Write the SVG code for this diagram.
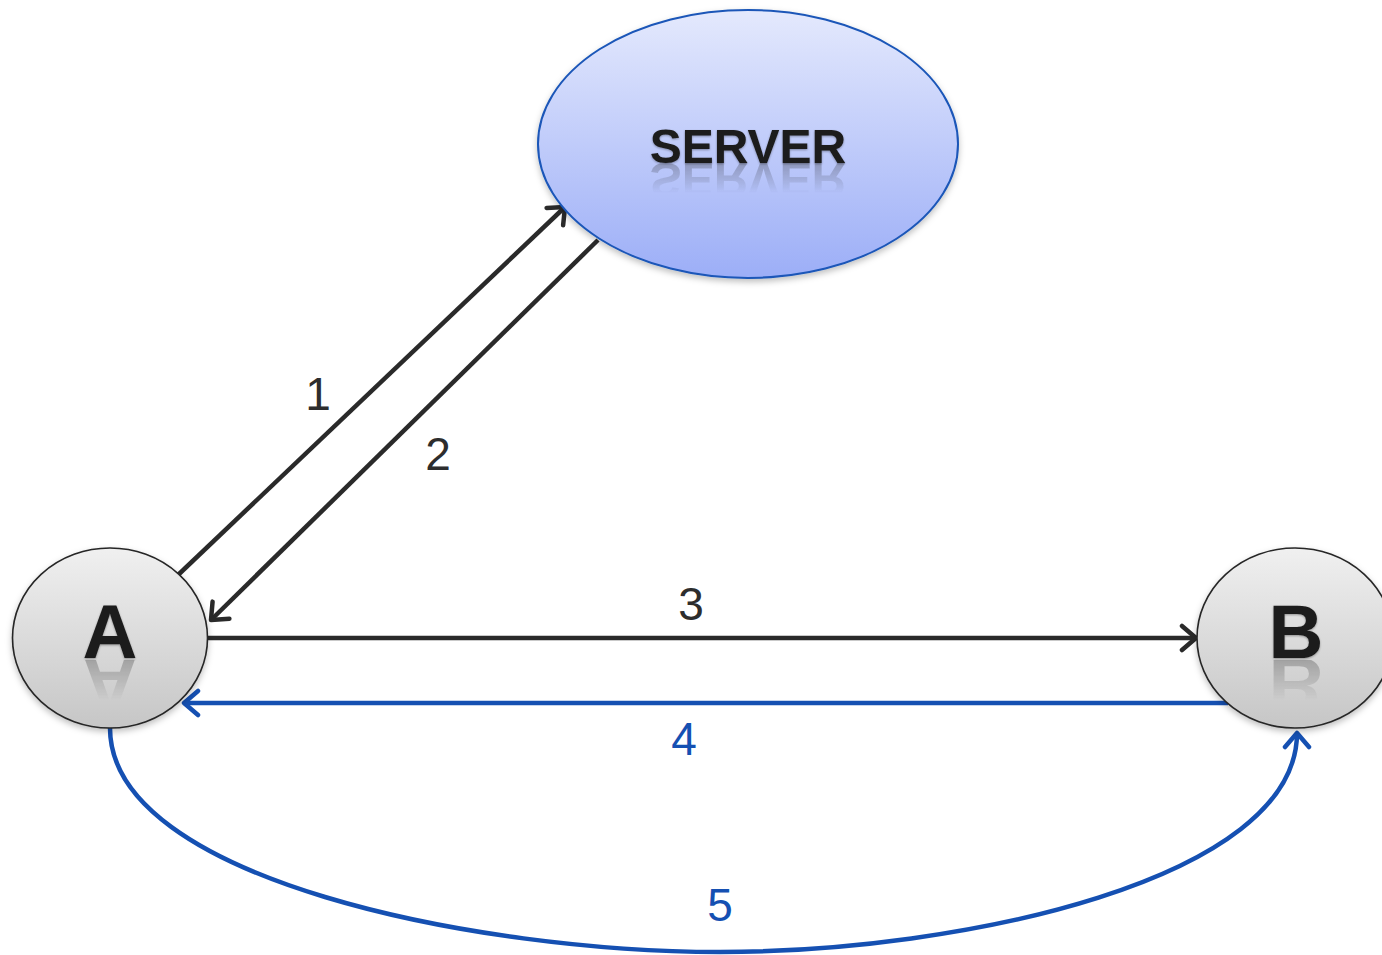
<svg xmlns="http://www.w3.org/2000/svg" width="1382" height="955" viewBox="0 0 1382 955">
  <style>
    .edge { fill: none; stroke: #2a2a2a; stroke-width: 4.5; }
    .edge-blue { fill: none; stroke: #1550b2; stroke-width: 4.5; }
    .label { font-family: "Liberation Sans", Arial, sans-serif; font-size: 46px; fill: #2d2d2d; text-anchor: middle; }
    .label-blue { fill: #1550b2; }
    .title { font-family: "Liberation Sans", Arial, sans-serif; font-weight: bold; fill: #1a1a1a; text-anchor: middle; }
    .peer { stroke: #262626; stroke-width: 1.6; fill: url(#peerFill); }
  </style>
  <defs>
    <linearGradient id="peerFill" x1="0" y1="0" x2="0" y2="1">
      <stop offset="0" stop-color="#f0f0f0"/>
      <stop offset="1" stop-color="#c6c6c6"/>
    </linearGradient>
    <linearGradient id="serverFill" x1="0" y1="0" x2="0" y2="1">
      <stop offset="0" stop-color="#e4e9fd"/>
      <stop offset="1" stop-color="#9caef7"/>
    </linearGradient>
    <linearGradient id="fadeGrad" x1="0" y1="0" x2="0" y2="1">
      <stop offset="0" stop-color="#fff" stop-opacity="0.45"/>
      <stop offset="1" stop-color="#fff" stop-opacity="0"/>
    </linearGradient>
    <filter id="soft" x="-10%" y="-10%" width="120%" height="130%">
      <feDropShadow dx="0" dy="3" stdDeviation="3" flood-color="#000" flood-opacity="0.25"/>
    </filter>
    <filter id="textShadow" x="-10%" y="-20%" width="120%" height="150%">
      <feDropShadow dx="0" dy="1" stdDeviation="1" flood-color="#000" flood-opacity="0.35"/>
    </filter>
    <mask id="reflServer" maskUnits="userSpaceOnUse" x="600" y="160" width="300" height="40">
      <rect x="600" y="163" width="300" height="30" fill="url(#fadeGrad)"/>
    </mask>
    <mask id="reflA" maskUnits="userSpaceOnUse" x="60" y="655" width="100" height="50">
      <rect x="60" y="660" width="100" height="40" fill="url(#fadeGrad)"/>
    </mask>
    <mask id="reflB" maskUnits="userSpaceOnUse" x="1245" y="655" width="100" height="50">
      <rect x="1245" y="660" width="100" height="40" fill="url(#fadeGrad)"/>
    </mask>
    <marker id="headDark" viewBox="-18 -15 21 30" markerWidth="21" markerHeight="30" refX="0" refY="0" orient="auto" markerUnits="userSpaceOnUse">
      <path d="M-14,-12 L0,0 L-14,12" fill="none" stroke="#2a2a2a" stroke-width="4.5" stroke-linecap="round" stroke-linejoin="round"/>
    </marker>
    <marker id="headBlue" viewBox="-18 -15 21 30" markerWidth="21" markerHeight="30" refX="0" refY="0" orient="auto" markerUnits="userSpaceOnUse">
      <path d="M-14,-12 L0,0 L-14,12" fill="none" stroke="#1550b2" stroke-width="4.5" stroke-linecap="round" stroke-linejoin="round"/>
    </marker>
  </defs>

  <rect width="1382" height="955" fill="#ffffff"/>

  <!-- connectors -->
  <g id="connectors">
    <path id="e1" class="edge" d="M178,575 L565,207" marker-end="url(#headDark)"/>
    <path id="e2" class="edge" d="M598,240 L211,620" marker-end="url(#headDark)"/>
    <path id="e3" class="edge" d="M208,638 L1196,638" marker-end="url(#headDark)"/>
    <path id="e4" class="edge-blue" d="M1228,703 L184,703" marker-end="url(#headBlue)"/>
    <path id="e5" class="edge-blue" d="M110,728 C110,880 480,952 720,952 C960,952 1297,880 1297,733" marker-end="url(#headBlue)"/>
  </g>

  <!-- connector labels -->
  <g id="edge-labels">
    <text class="label" x="318" y="410">1</text>
    <text class="label" x="438" y="470">2</text>
    <text class="label" x="691" y="620">3</text>
    <text class="label label-blue" x="684" y="755">4</text>
    <text class="label label-blue" x="720" y="921">5</text>
  </g>

  <!-- server node -->
  <g id="server">
    <ellipse cx="748" cy="144" rx="210" ry="134" fill="url(#serverFill)" stroke="#1a56b8" stroke-width="2" filter="url(#soft)"/>
    <text class="title" x="748" y="163" font-size="48" filter="url(#textShadow)">SERVER</text>
    <g mask="url(#reflServer)">
      <text class="title" x="748" y="-163" font-size="48" transform="scale(1,-1)" opacity="0.6">SERVER</text>
    </g>
  </g>

  <!-- peer A -->
  <g id="node-a">
    <ellipse class="peer" cx="110" cy="638" rx="97.5" ry="90" filter="url(#soft)"/>
    <text class="title" x="110" y="658" font-size="76" filter="url(#textShadow)">A</text>
    <g mask="url(#reflA)">
      <text class="title" x="110" y="-658" font-size="76" transform="scale(1,-1)" opacity="0.6">A</text>
    </g>
  </g>

  <!-- peer B -->
  <g id="node-b">
    <ellipse class="peer" cx="1295" cy="638" rx="98" ry="90" filter="url(#soft)"/>
    <text class="title" x="1296" y="658" font-size="76" filter="url(#textShadow)">B</text>
    <g mask="url(#reflB)">
      <text class="title" x="1296" y="-658" font-size="76" transform="scale(1,-1)" opacity="0.6">B</text>
    </g>
  </g>
</svg>
